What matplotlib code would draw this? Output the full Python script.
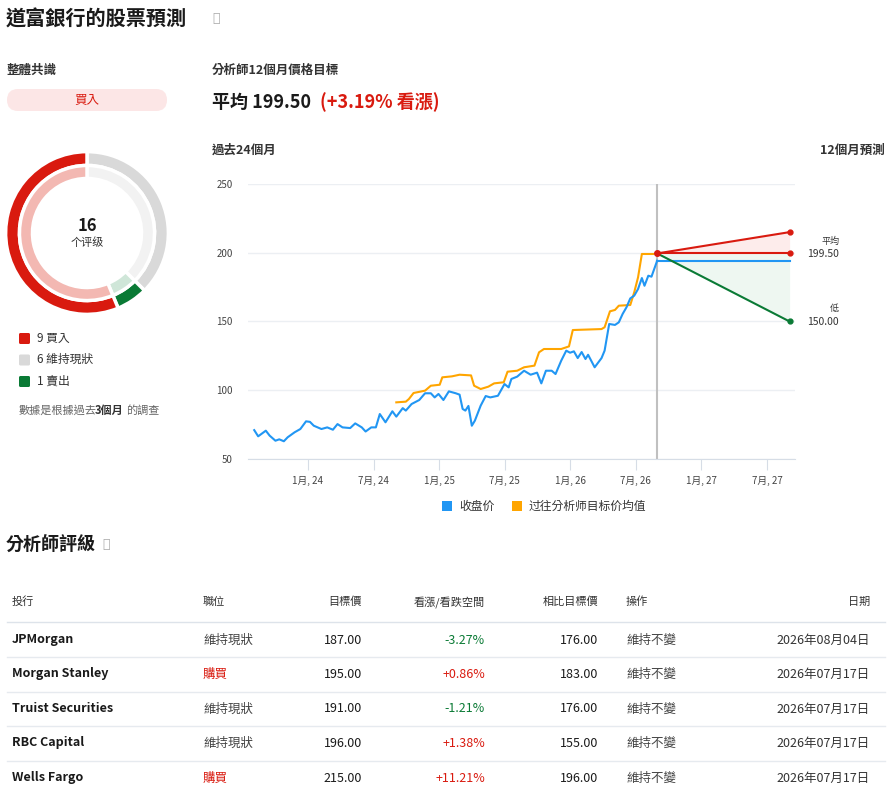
import matplotlib.pyplot as plt
from matplotlib.patches import FancyBboxPatch

plt.rcParams['font.family'] = ['Noto Sans CJK TC', 'DejaVu Sans']

W, H = 893, 790

# ---- data ----
rating_labels = ['6 維持現狀', '1 賣出', '9 買入']
rating_counts = [6, 1, 9]

tick_months = [0, 6, 12, 18, 24, 30, 36, 42]
tick_labels = ['1月, 24', '7月, 24', '1月, 25', '7月, 25', '1月, 26', '7月, 26', '1月, 27', '7月, 27']

# months since Jan 2024
close_m = [-4.92, -4.56, -3.86, -3.51, -2.98, -2.63, -2.21, -1.86, -1.23, -0.70,
           -0.18, 0.18, 0.53, 1.23, 1.76, 2.28, 2.70, 3.16, 3.86, 4.32,
           4.92, 5.27, 5.79, 6.21, 6.57, 7.09, 7.72, 8.08, 8.67, 8.95,
           9.48, 10.18, 10.71, 11.24, 11.59, 11.94, 12.39, 12.89, 13.52, 13.87,
           14.15, 14.40, 14.68, 14.99, 15.27, 15.80, 16.26, 16.68, 17.38, 17.98,
           18.36, 18.61, 19.14, 19.77, 20.37, 20.96, 21.35, 21.77, 22.30, 22.65,
           23.17, 23.63, 23.98, 24.33, 24.68, 25.04, 25.39, 25.63, 26.23, 26.86,
           27.14, 27.56, 28.09, 28.44, 28.79, 29.14, 29.49, 29.85, 30.20, 30.55,
           30.79, 31.14, 31.43, 31.95]
close_v = [71, 66.5, 70.6, 67, 63.3, 64.3, 62.9, 65.8, 69.4, 71.8,
           77.4, 77, 74.2, 71.8, 73, 71.3, 75.4, 73, 72.5, 75.9,
           73, 70, 73, 73, 82.7, 76.7, 84.7, 80.8, 87, 85.2,
           90, 92.9, 97.8, 97.8, 94.8, 97.3, 92.9, 99.2, 97.8, 96.8,
           86.4, 85.2, 88.6, 74.2, 77.9, 88.8, 95.8, 94.8, 96, 104.5,
           102.1, 108.2, 109.9, 114.2, 111.3, 112.8, 105, 114.2, 114.2, 111.8,
           121.5, 128.8, 127.3, 128.3, 123.4, 127.8, 122.7, 125.8, 116.7, 123.4,
           128.8, 148.2, 147.5, 149.4, 155.5, 160.3, 166.8, 168.8, 173.6, 181.6,
           176, 183.3, 182.6, 194.2]

target_m = [8.08, 8.95, 9.23, 9.66, 10.71, 11.24, 12.05, 12.29, 13.17, 13.87, 14.92, 15.20, 15.80,
            16.50, 17.03, 17.91, 18.26, 19.14, 19.77, 20.72, 21.14, 21.59, 23.17, 23.88, 24.23, 26.86,
            27.14, 27.63, 28.09, 28.44, 29.49, 29.85, 30.20, 30.55, 31.60]
target_v = [91.2, 91.7, 93.6, 98, 99.7, 103.3, 104, 109.4, 110.1, 111.3, 110.8, 103.3, 100.9,
            102.6, 105, 105.8, 113.5, 114.2, 116.7, 117.9, 127.6, 130, 130, 131.9, 143.8, 144.5,
            145.8, 157.4, 158.4, 161.5, 162, 171.2, 182.1, 199.1, 199.1]

today_m, end_m = 31.95, 44.07
last_close = 194.2
fc_high, fc_mean, fc_low = 215.0, 199.5, 150.0

table_cols = ['投行', '職位', '目標價', '看漲/看跌空間', '相比目標價', '操作', '日期']
banks = ['JPMorgan', 'Morgan Stanley', 'Truist Securities', 'RBC Capital', 'Wells Fargo']
positions = ['維持現狀', '購買', '維持現狀', '維持現狀', '購買']
targets = ['187.00', '195.00', '191.00', '196.00', '215.00']
upsides = ['-3.27%', '+0.86%', '-1.21%', '+1.38%', '+11.21%']
prev_targets = ['176.00', '183.00', '176.00', '155.00', '196.00']
actions = ['維持不變'] * 5
dates = ['2026年08月04日', '2026年07月17日', '2026年07月17日', '2026年07月17日', '2026年07月17日']

RED = '#d91a0f'
GREEN = '#0a7a35'
DARK = '#1a1a1a'


def fa(l, t, w, h):
    return [l / W, 1 - (t + h) / H, w / W, h / H]


fig = plt.figure(figsize=(W / 100, H / 100), dpi=100)

# page layer in pixel coords
bg = fig.add_axes([0, 0, 1, 1])
bg.set_xlim(0, W)
bg.set_ylim(H, 0)
bg.axis('off')

bg.text(6, 19, '道富銀行的股票預測', fontsize=14.5, fontweight='bold', color=DARK, va='center')
bg.text(212, 18, 'ⓘ', fontsize=9, color='#aaaaaa', va='center', family=['DejaVu Sans'])
bg.text(7, 70, '整體共識', fontsize=9, color='#333333', va='center', fontweight='bold')
bg.add_patch(FancyBboxPatch((7, 89), 160, 22, boxstyle='round,pad=0,rounding_size=11',
                            fc='#fce6e6', ec='none'))
bg.text(87, 100, '買入', fontsize=9, color=RED, ha='center', va='center')

bg.text(212, 70, '分析師12個月價格目標', fontsize=9, color='#333333', va='center', fontweight='bold')
bg.text(212, 102, '平均 199.50', fontsize=13, fontweight='bold', color=DARK, va='center')
bg.text(320, 102, '(+3.19% 看漲)', fontsize=13, fontweight='bold', color=RED, va='center')
bg.text(212, 150, '過去24個月', fontsize=9, color='#333333', va='center', fontweight='bold')
bg.text(885, 150, '12個月預測', fontsize=9, color='#333333', va='center', ha='right', fontweight='bold')

# legend for donut
leg_colors = [RED, '#d9d9d9', GREEN]
leg_texts = ['9 買入', '6 維持現狀', '1 賣出']
for i, (c, t) in enumerate(zip(leg_colors, leg_texts)):
    y = 338 + i * 21.5
    bg.add_patch(FancyBboxPatch((19, y - 5), 11, 11, boxstyle='round,pad=0,rounding_size=1.5',
                                fc=c, ec='none'))
    bg.text(37, y, t, fontsize=8.5, color='#333333', va='center')
bg.text(19, 410, '數據是根據過去', fontsize=8, color='#666666', va='center')
bg.text(95, 410, '3個月', fontsize=8, color='#333333', va='center', fontweight='bold')
bg.text(126, 410, '的調查', fontsize=8, color='#666666', va='center')

# chart legend
bg.add_patch(plt.Rectangle((442, 501), 10, 10, fc='#2196f3', ec='none'))
bg.text(459, 506, '收盘价', fontsize=8.5, color='#333333', va='center')
bg.add_patch(plt.Rectangle((512, 501), 10, 10, fc='#ffa500', ec='none'))
bg.text(529, 506, '过往分析师目标价均值', fontsize=8.5, color='#333333', va='center')

# table
bg.text(6, 545, '分析師評級', fontsize=13, fontweight='bold', color=DARK, va='center')
bg.text(102, 545, 'ⓘ', fontsize=9, color='#aaaaaa', va='center', family=['DejaVu Sans'])
col_x = [12, 203, 362, 485, 598, 626, 870]
col_ha = ['left', 'left', 'right', 'right', 'right', 'left', 'right']
for x, ha, t in zip(col_x, col_ha, table_cols):
    bg.text(x, 602, t, fontsize=8, color='#333333', ha=ha, va='center')
bg.plot([7, 885], [622, 622], color='#dde3ea', lw=1)
for i in range(5):
    y = 639 + i * 34.5
    up_c = GREEN if upsides[i].startswith('-') else RED
    pos_c = RED if positions[i] == '購買' else '#444444'
    bg.text(col_x[0], y, banks[i], fontsize=9, color=DARK, va='center', fontweight='bold')
    bg.text(col_x[1], y + 1, positions[i], fontsize=9, color=pos_c, va='center')
    bg.text(col_x[2], y + 1, targets[i], fontsize=9, color=DARK, ha='right', va='center')
    bg.text(col_x[3], y + 1, upsides[i], fontsize=9, color=up_c, ha='right', va='center')
    bg.text(col_x[4], y + 1, prev_targets[i], fontsize=9, color=DARK, ha='right', va='center')
    bg.text(col_x[5], y + 1, actions[i], fontsize=9, color='#444444', va='center')
    bg.text(col_x[6], y + 1, dates[i], fontsize=9, color='#333333', ha='right', va='center')
    if i < 4:
        bg.plot([7, 885], [y + 18, y + 18], color='#e6eaef', lw=1)

# donut
dax = fig.add_axes(fa(4, 150, 166, 166))
dax.set_aspect('equal')
dark_c = ['#d9d9d9', GREEN, RED]
light_c = ['#f2f2f2', '#cfe6d8', '#f3b8b2']
dax.pie(rating_counts, colors=dark_c, startangle=90, counterclock=False, radius=1.0,
        wedgeprops=dict(width=0.17, edgecolor='white', linewidth=2.5))
dax.pie(rating_counts, colors=light_c, startangle=90, counterclock=False, radius=0.83,
        wedgeprops=dict(width=0.16, edgecolor='white', linewidth=2.5))
dax.text(0, 0.08, str(sum(rating_counts)), fontsize=12, fontweight='bold', ha='center', va='center',
         color=DARK)
dax.text(0, -0.12, '个评级', fontsize=8, ha='center', va='center', color='#333333')
dax.set_xlim(-1.02, 1.02)
dax.set_ylim(-1.02, 1.02)

# price chart
px_per_m = (767 - 308) / 42
left_px, right_px = 248, 795
ax = fig.add_axes(fa(left_px, 184, right_px - left_px, 459 - 184))
ax.set_xlim((left_px - 308) / px_per_m, (right_px - 308) / px_per_m)
ax.set_ylim(50, 250)
for s in ['top', 'right', 'left']:
    ax.spines[s].set_visible(False)
ax.spines['bottom'].set_color('#d6dde6')
ax.set_yticks([50, 100, 150, 200, 250])
ax.tick_params(axis='y', length=0, labelsize=7, colors='#444444', pad=11)
ax.set_xticks(tick_months)
ax.set_xticklabels(tick_labels)
ax.tick_params(axis='x', length=8, color='#d6dde6', labelsize=7, labelcolor='#444444', pad=4)
ax.grid(axis='y', color='#eceff3', lw=1)
ax.set_axisbelow(True)

ax.fill_between([today_m, end_m], [fc_mean, fc_mean], [fc_mean, fc_high], color='#fdeceb', lw=0)
ax.fill_between([today_m, end_m], [fc_mean, fc_mean], [fc_mean, fc_low], color='#eef7f1', lw=0)
ax.axvline(today_m, color='#c0c0c0', lw=1.5)
ax.plot(target_m, target_v, color='#ffa500', lw=1.5)
ax.plot(close_m, close_v, color='#2196f3', lw=1.5)
ax.plot([today_m, end_m], [last_close, last_close], color='#2196f3', lw=1.5)
ax.plot([today_m, end_m], [fc_mean, fc_high], color=RED, lw=1.5)
ax.plot([today_m, end_m], [fc_mean, fc_mean], color=RED, lw=1.5)
ax.plot([today_m, end_m], [fc_mean, fc_low], color=GREEN, lw=1.5)
ax.plot([today_m], [fc_mean], 'o', color=RED, ms=4)
ax.plot([end_m, end_m], [fc_high, fc_mean], 'o', color=RED, ms=3.5)
ax.plot([end_m], [fc_low], 'o', color=GREEN, ms=3.5)

bg.text(839, 241, '平均', fontsize=6.5, color='#333333', ha='right', va='center')
bg.text(839, 254, '199.50', fontsize=7.5, color='#333333', ha='right', va='center')
bg.text(839, 308, '低', fontsize=6.5, color='#333333', ha='right', va='center')
bg.text(839, 322, '150.00', fontsize=7.5, color='#333333', ha='right', va='center')

fig.savefig('out.png', dpi=100)
